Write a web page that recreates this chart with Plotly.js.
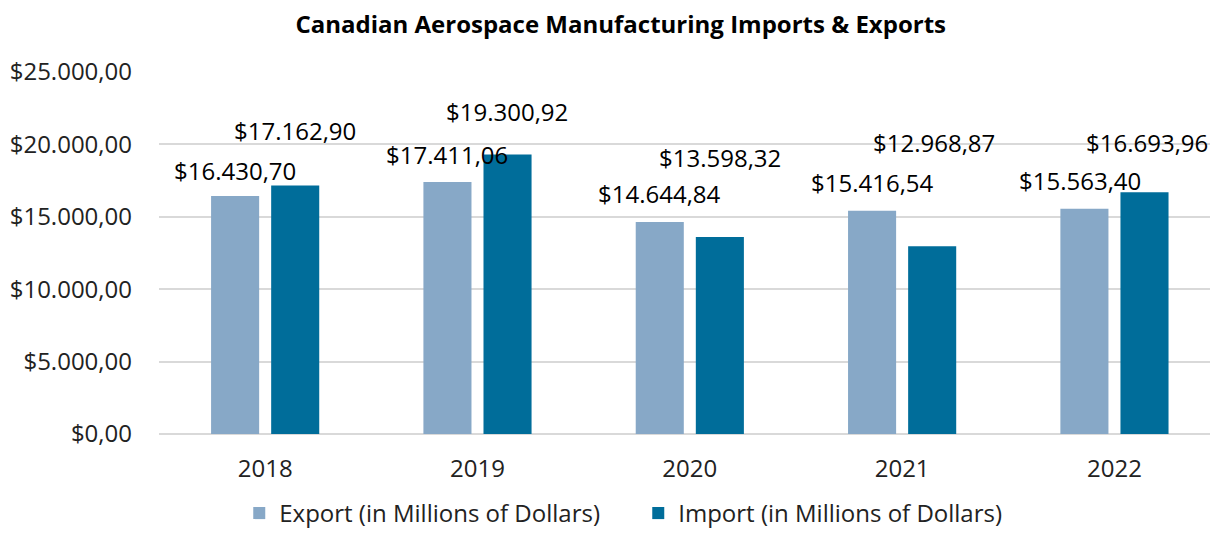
<!DOCTYPE html>
<html>
<head>
<meta charset="utf-8">
<script src="https://cdn.plot.ly/plotly-3.0.1.min.js"></script>
<style>html,body{margin:0;padding:0;background:#fff;overflow:hidden}</style>
</head>
<body>
<div id="chart" style="width:1210px;height:536px"></div>
<script>
const years = ["2018", "2019", "2020", "2021", "2022"];
const exportValues = [16430.70, 17411.06, 14644.84, 15416.54, 15563.40];
const importValues = [17162.90, 19300.92, 13598.32, 12968.87, 16693.96];
const exportLabels = ["$16.430,70", "$17.411,06", "$14.644,84", "$15.416,54", "$15.563,40"];
const importLabels = ["$17.162,90", "$19.300,92", "$13.598,32", "$12.968,87", "$16.693,96"];
const tickValues = [0, 5000, 10000, 15000, 20000, 25000];
const tickLabels = ["$0,00", "$5.000,00", "$10.000,00", "$15.000,00", "$20.000,00", "$25.000,00"];

// label placement (styling, pixels above bar top)
const exportLift = [26, 27, 28, 28, 28];
const importLift = [55, 43, 80, 104, 50];
const exportDx = [0, 0, 0, 0, -4];
const importDx = [0, 0, 0, 2, 3];

const font = "'Open Sans', 'Noto Sans', sans-serif";
const annotations = [];
years.forEach((y, i) => {
  annotations.push({x: i, y: exportValues[i], xref: 'x', yref: 'y', text: exportLabels[i],
    showarrow: false, xanchor: 'center', yanchor: 'middle', xshift: -30 + exportDx[i], yshift: exportLift[i],
    font: {family: font, size: 24, color: '#000'}});
  annotations.push({x: i, y: importValues[i], xref: 'x', yref: 'y', text: importLabels[i],
    showarrow: false, xanchor: 'center', yanchor: 'middle', xshift: 30 + importDx[i], yshift: importLift[i],
    font: {family: font, size: 24, color: '#000'}});
});

const data = [
  {type: 'bar', name: 'Export (in Millions of Dollars)', x: years, y: exportValues,
   marker: {color: '#87a8c7'}, hoverinfo: 'none'},
  {type: 'bar', name: 'Import (in Millions of Dollars)', x: years, y: importValues,
   marker: {color: '#006d9a'}, hoverinfo: 'none'}
];

const layout = {
  width: 1210, height: 536,
  margin: {l: 159, r: 0, t: 72, b: 102, autoexpand: false},
  paper_bgcolor: '#fff', plot_bgcolor: '#fff',
  font: {family: font, size: 24, color: '#000'},
  title: {text: '<b>Canadian Aerospace Manufacturing Imports & Exports</b>',
    x: 0.513, xanchor: 'center', y: 0.955, yanchor: 'middle',
    font: {family: font, size: 24, color: '#000'}},
  barmode: 'group', bargap: 0.434, bargroupgap: 0.2,
  xaxis: {type: 'category', range: [-0.5, 4.45], showgrid: false, zeroline: false,
    showline: false, ticks: '', ticklabelstandoff: 18,
    tickfont: {family: font, size: 24, color: '#222'}},
  yaxis: {range: [0, 25000], tickvals: tickValues, ticktext: tickLabels,
    showgrid: true, gridcolor: '#d9d9d9', gridwidth: 2, zeroline: true, zerolinecolor: '#d9d9d9', zerolinewidth: 2,
    showline: false, ticks: '', ticklabelstandoff: 26,
    tickfont: {family: font, size: 24, color: '#222'}},
  showlegend: true,
  legend: {orientation: 'h', x: 0.456, xanchor: 'center', yref: 'container', y: 0, yanchor: 'bottom',
    font: {family: font, size: 24, color: '#222'}, itemwidth: 30, tracegroupgap: 0,
    entrywidth: 354, entrywidthmode: 'pixels',
    traceorder: 'normal'},
  annotations: annotations
};

Plotly.newPlot('chart', data, layout, {displayModeBar: false, staticPlot: true});
</script>
</body>
</html>
